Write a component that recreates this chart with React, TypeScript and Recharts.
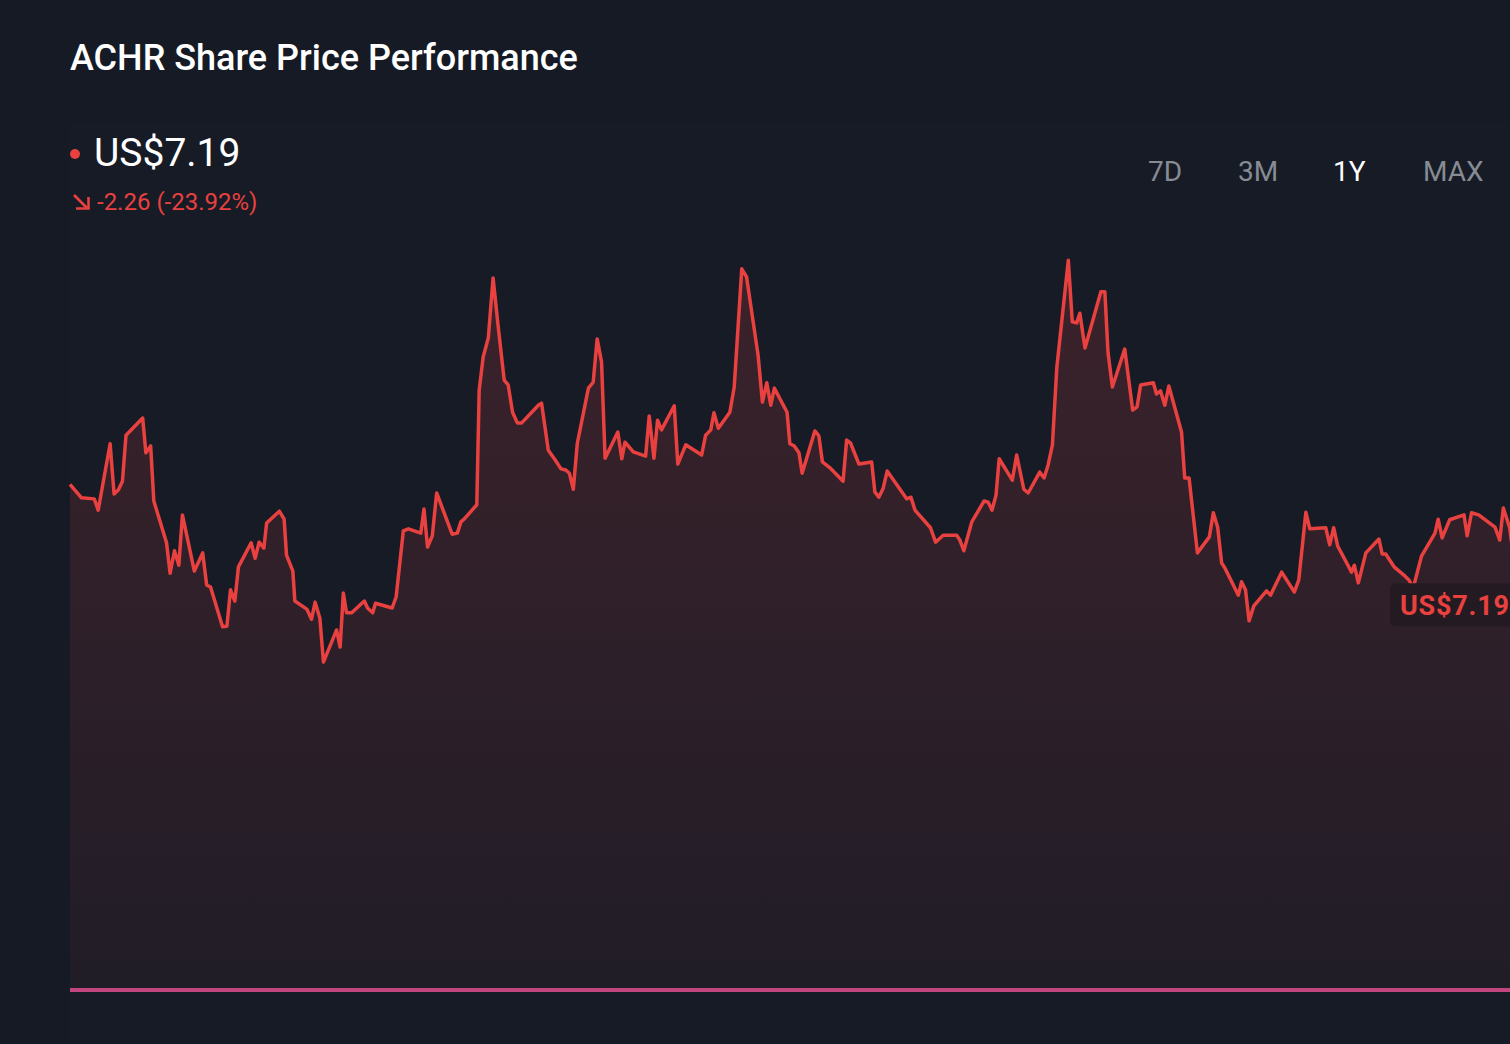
import React from "react";
import {
  ComposedChart,
  Area,
  XAxis,
  YAxis,
  ReferenceLine,
  ReferenceDot,
} from "recharts";

// days since start of the 1Y window
const days = [
  0, 2.9, 6.1, 7.1, 10.1, 11.1, 12.2, 13.2, 14.1, 18.3, 19.1, 20.3, 21.1, 24.3, 25.2, 26.3, 27.4, 28.3,
  31.3, 33.4, 34.4, 35.4, 38.4, 39.5, 40.4, 41.5, 42.4, 45.6, 46.6, 47.6, 48.8, 49.5, 52.7, 53.9, 54.5,
  56.1, 56.6, 59.6, 60.8, 61.7, 62.9, 63.8, 67.1, 68.0, 68.8, 69.6, 70.9, 74.1, 74.9, 76.2, 76.9, 81.1,
  82.1, 83.9, 85.2, 88.3, 89.1, 90.0, 91.2, 92.3, 96.2, 97.5, 98.4, 99.2, 102.4, 103.0, 104.0, 105.3,
  106.5, 107.8, 109.3, 110.3, 111.4, 112.6, 113.7, 117.9, 118.7, 120.4, 122.1, 123.6, 124.8, 125.7,
  126.7, 127.7, 130.5, 131.7, 132.7, 133.8, 134.7, 137.9, 138.9, 139.7, 141.8, 144.9, 145.8, 147.0,
  147.9, 148.9, 152.1, 153.0, 155.0, 159.0, 160.0, 161.3, 162.1, 163.2, 166.1, 167.2, 169.1, 170.3,
  173.2, 174.3, 175.4, 176.4, 177.3, 180.5, 181.2, 182.3, 183.5, 184.3, 187.5, 188.5, 189.4, 191.3,
  194.6, 195.5, 196.5, 198.6, 201.8, 202.6, 203.6, 204.7, 205.7, 210.6, 211.7, 212.7, 216.6, 217.9,
  219.8, 223.2, 224.0, 225.0, 227.0, 230.1, 231.1, 232.1, 233.1, 233.9, 237.2, 238.3, 240.1, 241.2,
  244.1, 245.2, 246.2, 247.3, 248.4, 251.3, 252.3, 253.4, 254.2, 255.5, 259.5, 260.5, 261.3, 262.4,
  265.5, 267.5, 268.6, 269.5, 272.7, 273.5, 274.5, 275.6, 276.6, 279.8, 280.6, 281.7, 283.8, 286.8,
  287.8, 288.9, 289.9, 290.7, 294.1, 294.9, 295.9, 296.8, 298.0, 301.2, 302.2, 305.0, 308.2, 309.3,
  311.1, 312.1, 316.1, 317.1, 318.1, 319.1, 322.6, 323.3, 324.3, 326.2, 329.5, 330.3, 331.2, 333.3,
  336.0, 337.1, 338.1, 340.2, 343.6, 344.4, 345.4, 347.3, 350.9, 351.7, 352.8, 354.6, 358.7, 359.9,
  360.8, 362.4, 365,
];

// closing price, US$
const prices = [
  9.45, 9.2, 9.18, 8.97, 10.21, 9.27, 9.35, 9.51, 10.37, 10.69, 10.04, 10.17, 9.14, 8.36, 7.79, 8.21, 7.94, 8.88,
  7.83, 8.17, 7.57, 7.53, 6.79, 6.8, 7.48, 7.27, 7.91, 8.36, 8.07, 8.37, 8.26, 8.73, 8.95, 8.8, 8.13,
  7.83, 7.27, 7.12, 6.93, 7.25, 6.95, 6.13, 6.73, 6.41, 7.42, 7.05, 7.05, 7.27, 7.14, 7.05, 7.23, 7.14,
  7.35, 8.58, 8.62, 8.54, 8.99, 8.28, 8.49, 9.29, 8.52, 8.54, 8.75, 8.8, 9.07, 11.21, 11.83, 12.19,
  13.31, 12.39, 11.4, 11.31, 10.8, 10.6, 10.6, 10.93, 10.97, 10.09, 9.91, 9.74, 9.72, 9.66,
  9.36, 10.22, 11.25, 11.36, 12.17, 11.74, 9.94, 10.43, 9.93, 10.24, 10.06, 9.98, 10.73, 9.94,
  10.65, 10.47, 10.92, 9.83, 10.19, 10.0, 10.37, 10.47, 10.79, 10.5, 10.8, 11.27, 13.48, 13.33,
  11.87, 10.99, 11.35, 10.93, 11.25, 10.8, 10.21, 10.17, 10.04, 9.66, 10.45, 10.36, 9.87, 9.76,
  9.51, 10.28, 10.22, 9.83, 9.87, 9.31, 9.21, 9.38, 9.7, 9.18, 9.21, 8.97, 8.64, 8.37,
  8.5, 8.5, 8.41, 8.21, 8.75, 9.14, 9.12, 8.97, 9.25, 9.93, 9.53, 10.0, 9.36, 9.29,
  9.68, 9.57, 9.81, 10.19, 11.63, 13.64, 12.49, 12.47, 12.65, 12.0, 13.05, 13.05, 11.91, 11.27,
  11.98, 10.84, 10.9, 11.31, 11.35, 11.14, 11.2, 10.93, 11.29, 10.43, 9.57, 9.57, 8.17, 8.47,
  8.92, 8.65, 7.98, 7.89, 7.38, 7.63, 7.48, 6.9, 7.18, 7.46, 7.38, 7.81, 7.44, 7.66,
  8.93, 8.62, 8.64, 8.32, 8.64, 8.3, 7.81, 7.94, 7.61, 8.17, 8.43, 8.15, 8.15, 7.91,
  7.74, 7.66, 7.51, 8.11, 8.54, 8.8, 8.45, 8.79, 8.88, 8.49, 8.92, 8.88, 8.65, 8.41,
  9.01, 8.64, 7.19,
];

const ranges = ["7D", "3M", "1Y", "MAX"];
const activeRange = "1Y";

const lastPrice = 7.19;
const change = -2.26;
const changePct = -23.92;

const BG = "#151a25";
const RED = "#e8413f";
const FONT = "Roboto, 'Noto Sans', sans-serif";

const data = days.map((d, i) => ({ day: d, price: prices[i] }));

// price tag drawn at the last close
function PriceTag(props: any) {
  const { cx, cy } = props;
  if (cx == null || cy == null) return null;
  return (
    <g>
      <rect x={cx - 130} y={cy - 22} width={150} height={43} rx={6} fill="#231b21" />
      <text
        x={cx - 120}
        y={cy + 10}
        fill={RED}
        fontSize={27}
        fontWeight={700}
        fontFamily={FONT}
        letterSpacing={0.8}
      >
        US${lastPrice.toFixed(2)}
      </text>
    </g>
  );
}

export default function App() {
  return (
    <div
      style={{
        position: "fixed",
        top: 0,
        left: 0,
        width: 1510,
        height: 1044,
        overflow: "hidden",
        background: BG,
        fontFamily: FONT,
      }}
    >
      <div
        style={{
          position: "absolute",
          left: 70,
          top: 123,
          right: 0,
          bottom: 0,
          background: "#161b26",
        }}
      />

      {/* header */}
      <div
        style={{
          position: "absolute",
          left: 70,
          top: 40,
          fontSize: 36,
          lineHeight: 1,
          fontWeight: 500,
          color: "#ffffff",
          whiteSpace: "nowrap",
        }}
      >
        ACHR Share Price Performance
      </div>

      <div
        style={{
          position: "absolute",
          left: 70,
          top: 149,
          width: 10,
          height: 10,
          borderRadius: 5,
          background: RED,
        }}
      />
      <div
        style={{
          position: "absolute",
          left: 94,
          top: 134,
          fontSize: 39,
          lineHeight: 1,
          color: "#ffffff",
          whiteSpace: "nowrap",
        }}
      >
        US${lastPrice.toFixed(2)}
      </div>

      <svg
        style={{ position: "absolute", left: 71, top: 193 }}
        width={20}
        height={18}
        viewBox="0 0 20 18"
      >
        <path d="M3 2 L16 15" stroke={RED} strokeWidth={2.6} fill="none" />
        <path d="M5 15.5 L17.5 15.5 L17.5 4" stroke={RED} strokeWidth={2.6} fill="none" />
      </svg>
      <div
        style={{
          position: "absolute",
          left: 97,
          top: 190,
          fontSize: 24,
          lineHeight: 1,
          color: RED,
          whiteSpace: "nowrap",
        }}
      >
        {change.toFixed(2)} ({changePct.toFixed(2)}%)
      </div>

      {ranges.map((r, i) => (
        <div
          key={r}
          style={{
            position: "absolute",
            left: [1148, 1238, 1333, 1423][i],
            top: 158,
            fontSize: 28,
            lineHeight: 1,
            color: r === activeRange ? "#ffffff" : "#868b94",
            whiteSpace: "nowrap",
          }}
        >
          {r}
        </div>
      ))}

      <div style={{ position: "absolute", left: 0, top: 0 }}>
        <ComposedChart
          width={1560}
          height={1044}
          data={data}
          margin={{ top: 241, right: 40, bottom: 54, left: 70 }}
        >
          <defs>
            <linearGradient id="achrFill" x1="0" y1="0" x2="0" y2="1">
              <stop offset="0%" stopColor={RED} stopOpacity={0.18} />
              <stop offset="100%" stopColor={RED} stopOpacity={0.05} />
            </linearGradient>
          </defs>
          <XAxis dataKey="day" type="number" domain={[0, 365]} hide />
          <YAxis type="number" domain={[0, 14]} hide />
          <Area
            type="linear"
            dataKey="price"
            stroke={RED}
            strokeWidth={3.5}
            strokeLinejoin="round"
            fill="url(#achrFill)"
            fillOpacity={1}
            dot={false}
            activeDot={false}
            isAnimationActive={false}
          />
          <ReferenceLine y={0} stroke="#c2467f" strokeWidth={4} />
          <ReferenceDot x={365} y={lastPrice} r={0} shape={(p: any) => <PriceTag {...p} />} />
        </ComposedChart>
      </div>
    </div>
  );
}
